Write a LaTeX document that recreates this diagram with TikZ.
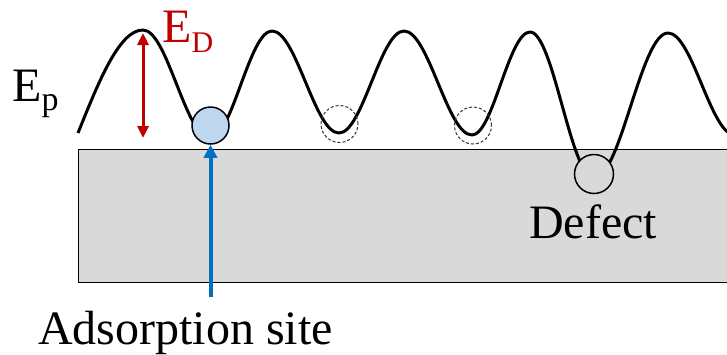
\documentclass[tikz,border=0pt]{standalone}
\usepackage{fontspec}
\setmainfont{Liberation Serif}
\usetikzlibrary{arrows.meta}
\definecolor{edred}{HTML}{C00000}
\definecolor{adblue}{HTML}{0070C0}
\definecolor{adfill}{HTML}{BDD7EE}
\definecolor{slab}{HTML}{D9D9D9}
\begin{document}
\begin{tikzpicture}[x=1pt,y=-1pt,
  big/.style={font=\fontsize{48}{56}\selectfont, inner sep=0pt, anchor=base west},
  potential/.style={line width=3pt, line join=round},
  site/.style={circle, draw=black, line width=1.5pt, inner sep=0pt, minimum size=37pt},
  emptysite/.style={circle, draw=black!80, dash pattern=on 3pt off 2pt, line width=1pt, inner sep=0pt, minimum size=37pt},
  edarrow/.style={edred, line width=3pt, {Triangle[length=12pt,width=11pt]}-{Triangle[length=12pt,width=11pt]}},
  adarrow/.style={adblue, line width=4pt, -{Triangle[length=13pt,width=13pt]}}]
\useasboundingbox (0,0) rectangle (727,354);
\clip (0,0) rectangle (727,354);
% substrate
\fill[slab] (78,149) rectangle (727,282);
\draw[line width=1pt] (730,149) -- (78,149) -- (78,282) -- (730,282);
% potential curve
\draw[potential] (78,133) sin (143,30) cos (176.5,84) sin (210,138)
  cos (241,84) sin (272,31) cos (305.5,82) sin (339,133)
  cos (371.5,82) sin (404,31) cos (438,83) sin (472,135)
  cos (501,83) sin (530,32) cos (562,105) sin (594,178)
  cos (631,105) sin (668,33) cos (701.5,84) sin (735,135);
% sites
\node[emptysite] (e1) at (339.5,124) {};
\node[emptysite] (e2) at (473,125.5) {};
\node[site, fill=adfill] (ads) at (210.5,125.5) {};
\node[site, fill=slab, minimum size=39pt] (def) at (594,174) {};
% labels
\node[big] (deflbl) at (529,238) {Defect};
\node[big] (lbl) at (38,344) {Adsorption site};
\node[big] (ep) at (12,101) {E\raisebox{-9pt}{\fontsize{34}{34}\selectfont p}};
\node[big, text=edred] (ed) at (162,42) {E\raisebox{-10pt}{\fontsize{30}{30}\selectfont D}};
% arrows
\coordinate (edtop) at (143,33);
\coordinate (edbot) at (143,138);
\draw[edarrow] (edtop) -- (edbot);
\coordinate (adstail) at (210.5,297);
\draw[adarrow] (adstail) -- (ads.south);
\end{tikzpicture}
\end{document}
